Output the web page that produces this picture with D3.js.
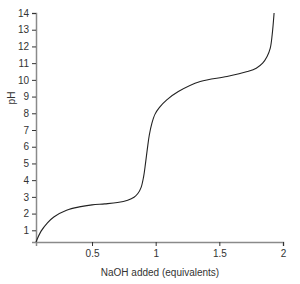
<!DOCTYPE html>
<html>
<head>
<meta charset="utf-8">
<script src="https://cdn.jsdelivr.net/npm/d3@7"></script>
<style>
  body { margin: 0; background: #fff; }
  text { font-family: "Liberation Sans", Arial, sans-serif; }
</style>
</head>
<body>
<script>
// titration curve
var naoh = [0.06, 0.1, 0.15, 0.2, 0.3, 0.4, 0.5, 0.6, 0.7, 0.78, 0.83, 0.86, 0.885, 0.905, 0.92, 0.935, 0.95, 0.97, 0.995, 1.03, 1.087, 1.178, 1.35, 1.56, 1.72, 1.79, 1.84, 1.875, 1.9, 1.915, 1.93];
var pH = [0.3, 0.95, 1.45, 1.8, 2.2, 2.4, 2.52, 2.58, 2.66, 2.8, 2.98, 3.2, 3.55, 4.2, 5.0, 5.9, 6.7, 7.4, 7.95, 8.35, 8.8, 9.3, 9.9, 10.2, 10.5, 10.7, 11.0, 11.4, 11.9, 12.7, 14];
var xTicks = [0.5, 1, 1.5, 2];
var yTicks = [1, 2, 3, 4, 5, 6, 7, 8, 9, 10, 11, 12, 13, 14];

var width = 300, height = 284;
var svg = d3.select('body').append('svg')
    .attr('width', width)
    .attr('height', height);

var xScale = d3.scaleLinear().domain([0.06, 2]).range([36, 283]);
var yScale = d3.scaleLinear().domain([0.3, 14]).range([242, 13]);

// x axis
var xAxis = svg.append('g')
    .attr('transform', 'translate(0,' + yScale(0.3) + ')')
    .call(d3.axisBottom(xScale).tickValues(xTicks).tickFormat(d3.format('')).tickSize(4).tickPadding(4));
// y axis
var yAxis = svg.append('g')
    .attr('transform', 'translate(' + xScale(0.06) + ',0)')
    .call(d3.axisLeft(yScale).tickValues(yTicks).tickSize(4).tickPadding(3));

[xAxis, yAxis].forEach(function(ax){
  ax.select('.domain').attr('stroke', '#8a8a8a').attr('stroke-width', 1.5);
  ax.selectAll('.tick line').attr('stroke', '#333');
  ax.selectAll('.tick text').attr('fill', '#333').style('font-size', '10px')
    .style('font-family', '"Liberation Sans", Arial, sans-serif');
});

var line = d3.line()
    .x(function(d, i){ return xScale(naoh[i]); })
    .y(function(d, i){ return yScale(pH[i]); })
    .curve(d3.curveCatmullRom.alpha(0.5));

svg.append('path')
    .attr('d', line(naoh))
    .attr('fill', 'none')
    .attr('stroke', '#222')
    .attr('stroke-width', 1.1);

// axis labels
svg.append('text')
    .attr('text-anchor', 'middle')
    .attr('x', 160).attr('y', 276)
    .attr('fill', '#333')
    .style('font-size', '10px')
    .text('NaOH added (equivalents)');
svg.append('text')
    .attr('text-anchor', 'middle')
    .attr('transform', 'translate(15,98)rotate(-90)')
    .attr('fill', '#333')
    .style('font-size', '10px')
    .text('pH');
</script>
</body>
</html>
